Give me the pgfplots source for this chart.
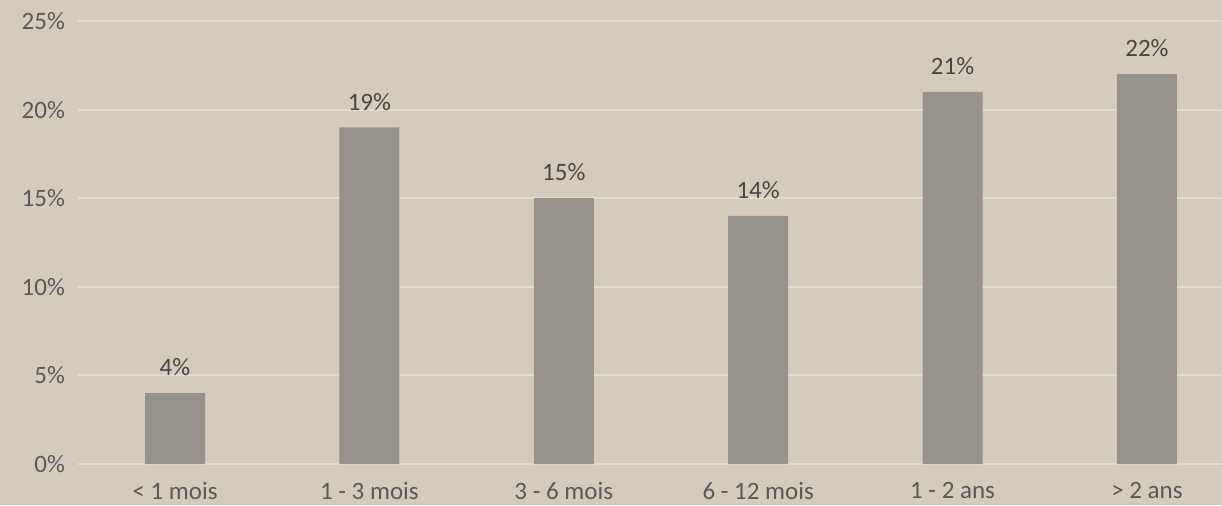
\documentclass[border=0pt]{standalone}
\usepackage{pgfplots}
\pgfplotsset{compat=1.18}
\usepackage{fontspec}
\setmainfont{Carlito}
\definecolor{bg}{HTML}{D5CBBD}
\definecolor{bar}{HTML}{948F89}
\definecolor{grid}{HTML}{DFDBD5}
\definecolor{txt}{HTML}{404040}
\definecolor{ticktxt}{HTML}{595959}
\begin{document}
\begin{tikzpicture}
\fill[bg] (-39pt,-20.5pt) rectangle (572pt,232pt);
\begin{axis}[
  scale only axis,
  width=572pt, height=221.5pt,
  xmin=-0.499, xmax=5.386,
  ymin=0, ymax=25,
  axis line style={draw=none},
  tick style={draw=none},
  ytick={0,5,10,15,20,25},
  yticklabel={\pgfmathprintnumber{\tick}\%},
  yticklabel style={font=\fontsize{12.5}{14}\selectfont, text=ticktxt, xshift=-3pt},
  /pgf/number format/assume math mode=true,
  xtick={0,1,2,3,4,5},
  xticklabels={{< 1 mois},{1 - 3 mois},{3 - 6 mois},{6 - 12 mois},{1 - 2 ans},{> 2 ans}},
  xticklabel style={font=\fontsize{12.5}{14}\selectfont, text=ticktxt, yshift=-1.5pt},
  ymajorgrids,
  grid style={draw=grid, line width=1pt},
  ybar, bar width=30pt,
  nodes near coords={\pgfmathprintnumber{\pgfplotspointmeta}\%},
  nodes near coords style={font=\fontsize{12.5}{14}\selectfont, text=txt, yshift=5pt},
]
\addplot[fill=bar, draw=none, fill opacity=0.95] coordinates {(0,4) (1,19) (2,15) (3,14) (4,21) (5,22)};
\end{axis}
\pgfresetboundingbox
\path[use as bounding box] (-39pt,-20.5pt) rectangle (572pt,232pt);
\end{tikzpicture}
\end{document}
